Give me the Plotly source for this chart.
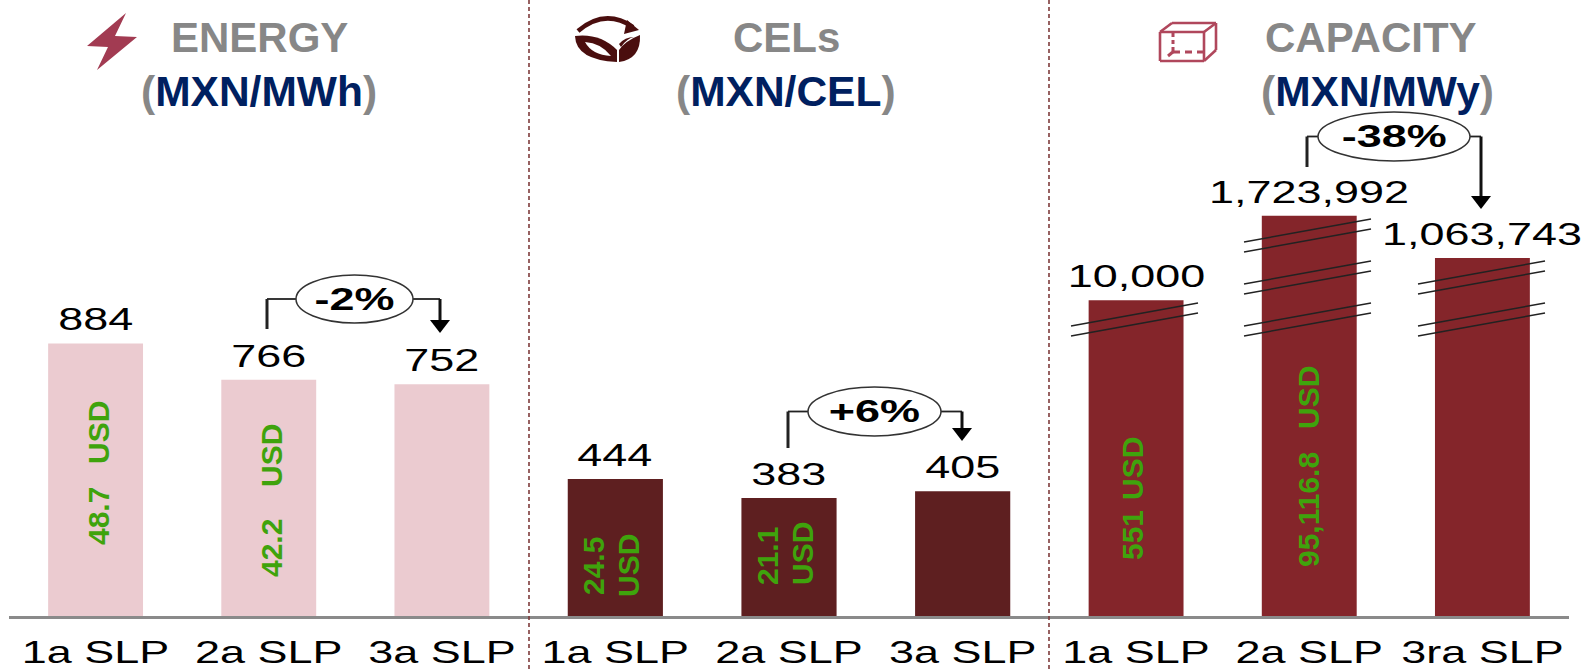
import plotly.graph_objects as go

W, H = 1595, 669
BASE = 616  # pixel row of the bars' baseline

energy_cats = ["1a SLP", "2a SLP", "3a SLP"]
cel_cats = ["1a SLP", "2a SLP", "3a SLP"]
capacity_cats = ["1a SLP", "2a SLP", "3ra SLP"]

energy_vals = [884, 766, 752]
cel_vals = [444, 383, 405]
# capacity bars are on a broken axis, so drawn heights differ from the labels
capacity_vals = [10000, 1723992, 1063743]
capacity_drawn = [1024, 1298, 1161]

PINK = "#EBCBD0"
DARK = "#5E1F20"
RED = "#84252A"
GREEN = "#3FA30C"
GRAY = "#878787"
NAVY = "#002060"
ICON = "#B0475C"
FONT = "Liberation Sans"


def px(x):
    return x / W


def py(y):
    return 1 - y / H


fig = go.Figure()

panels = [
    ("x", energy_cats, energy_vals, PINK, (9, 528.5)),
    ("x2", cel_cats, cel_vals, DARK, (528.5, 1049.5)),
    ("x3", capacity_cats, capacity_drawn, RED, (1049.5, 1569)),
]

for xref, cats, vals, col, dom in panels:
    fig.add_trace(go.Bar(x=cats, y=vals, xaxis=xref, yaxis="y", width=0.548,
                         marker=dict(color=col, line=dict(width=0)),
                         hoverinfo="skip", showlegend=False))
    name = "xaxis" + xref[1:]
    fig.update_layout({name: dict(
        domain=[px(dom[0]), px(dom[1])], anchor="y", type="category",
        showline=True, linecolor="#8a8a8a", linewidth=2.5, showgrid=False,
        zeroline=False, ticks="outside", ticklen=7, tickcolor="rgba(0,0,0,0)",
        tickfont=dict(family=FONT, size=31, color="black"))})

annots = []


def add_text(x, y, text, size, color="black", bold=False, angle=0):
    if bold:
        text = "<b>" + text + "</b>"
    annots.append(dict(x=px(x), y=py(y), xref="paper", yref="paper", text=text,
                       showarrow=False, textangle=angle, xanchor="center",
                       yanchor="middle",
                       font=dict(family=FONT, size=size, color=color)))


# value labels sit above each bar
label_sets = [
    ("x", energy_cats, energy_vals, energy_vals),
    ("x2", cel_cats, cel_vals, cel_vals),
    ("x3", capacity_cats, capacity_drawn, capacity_vals),
]
for xref, cats, tops, labels in label_sets:
    for c, t, l in zip(cats, tops, labels):
        annots.append(dict(x=c, y=t, xref=xref, yref="y", text=f"{l:,}",
                           showarrow=False, yanchor="middle", yshift=23.5,
                           font=dict(family=FONT, size=31, color="black")))

# titles
for x, y, t in [(259.5, 38, "ENERGY"), (786, 38, "CELs"), (1371, 38, "CAPACITY")]:
    add_text(x, y, t, 42, GRAY, True)
for x, t in [(259, "MXN/MWh"), (786, "MXN/CEL"), (1377, "MXN/MWy")]:
    add_text(x, 91, f'(<span style="color:{NAVY}">{t}</span>)', 42.5, GRAY, True)

# USD notes inside the bars
usd_notes = [
    (98, 516, "48.7"), (98, 433, "USD"), (271, 548, "42.2"), (271, 456, "USD"),
    (593, 566, "24.5"), (628, 566, "USD"), (767, 556, "21.1"), (802, 554, "USD"),
    (1132, 535, "551"), (1132, 469, "USD"), (1308, 510, "95,116.8"), (1308, 398, "USD"),
]
for x, y, t in usd_notes:
    add_text(x, y, t, 30, GREEN, True, -90)

# change brackets: ellipse box, left x, left start y, right x, tip y, label
brackets = [
    (296, 413, 275, 323, 267, 329, 440, 333, "-2%"),
    (808, 941, 387, 436, 788, 448, 962, 441, "+6%"),
    (1318, 1470, 112, 161, 1307, 167, 1481, 209, "-38%"),
]
shapes = []


def line(x0, y0, x1, y1, color="black", width=2, dash="solid"):
    shapes.append(dict(type="line", xref="paper", yref="paper", x0=px(x0), y0=py(y0),
                       x1=px(x1), y1=py(y1), line=dict(color=color, width=width, dash=dash)))


def path(points, fill=None, color=None, width=0):
    shapes.append(dict(type="path", xref="paper", yref="paper", path=points,
                       fillcolor=fill if fill else "rgba(0,0,0,0)",
                       line=dict(color=color if color else "rgba(0,0,0,0)", width=width)))


def pp(x, y):
    return f"{px(x):.5f},{py(y):.5f}"


for x0, x1, y0, y1, lx, ly, rx, tip, t in brackets:
    mid = (y0 + y1) / 2
    line(lx, ly, lx, mid, "#222222", 3)
    line(lx, mid, x0, mid, "#222222", 1.8)
    line(x1, mid, rx, mid, "#222222", 1.8)
    line(rx, mid, rx, tip - 10, "#111111", 3)
    path(f"M{pp(rx - 10, tip - 13)} L{pp(rx + 10, tip - 13)} L{pp(rx, tip)} Z", fill="black")
    shapes.append(dict(type="circle", xref="paper", yref="paper", x0=px(x0), x1=px(x1),
                       y0=py(y1), y1=py(y0), fillcolor="white",
                       line=dict(color="#333333", width=1.5)))
    add_text((x0 + x1) / 2, mid, t, 31, "black", True)

# axis-break strokes on the capacity bars
break_rows = [
    (1071, 1198, [(326, 303), (336, 313)]),
    (1244, 1371, [(242, 219), (252, 229), (284, 261), (294, 271), (326, 303), (336, 313)]),
    (1418, 1545, [(284, 261), (294, 271), (326, 303), (336, 313)]),
]
for x0, x1, rows in break_rows:
    for y0, y1 in rows:
        line(x0, y0, x1, y1, "#222222", 1.4)

# panel dividers
for x in (529, 1049):
    line(x, 0, x, H, "#7E3B3B", 1.6, "4px,3px")

# lightning icon
path("M" + " L".join(pp(a, b) for a, b in [(126, 13), (87, 46), (108, 47), (97, 70),
                                           (137, 37), (115, 36)]) + " Z", fill="#A23B52")

# CEL icon
path(f"M{pp(578, 31)} Q{pp(605, 8)} {pp(633, 27)}", color="#4A0E0E", width=4.5)
path(f"M{pp(627, 20)} L{pp(639, 30)} L{pp(624, 34)} Z", fill="#4A0E0E")
path(f"M{pp(575, 36)} Q{pp(600, 33)} {pp(617, 50)} L{pp(617, 62)} Q{pp(576, 60)} {pp(575, 36)} Z", fill="#4A0E0E")
path(f"M{pp(585, 42)} Q{pp(601, 43)} {pp(611, 56)} Q{pp(592, 55)} {pp(585, 42)} Z", fill="white")
path(f"M{pp(640, 35)} Q{pp(641, 59)} {pp(619, 62)} L{pp(619, 50)} Q{pp(625, 41)} {pp(640, 35)} Z", fill="#4A0E0E")
path(f"M{pp(619, 44)} Q{pp(625, 37)} {pp(634, 37)} Q{pp(626, 39)} {pp(621, 47)} Z", fill="#4A0E0E")

# capacity icon
for x0, y0, x1, y1 in [(1160, 32, 1204, 32), (1160, 61, 1204, 61), (1160, 32, 1160, 61),
                       (1204, 32, 1204, 61), (1160, 32, 1172, 23), (1204, 32, 1216, 23),
                       (1172, 23, 1216, 23), (1216, 23, 1216, 50), (1204, 61, 1216, 50)]:
    line(x0, y0, x1, y1, ICON, 2.6)
line(1173, 33, 1173, 52, ICON, 3, "4px,3px")
line(1173, 52, 1204, 52, ICON, 3, "7px,5px")
line(1168, 56, 1174, 51, ICON, 3)

fig.update_layout(
    width=W, height=H, margin=dict(l=0, r=0, t=0, b=0),
    paper_bgcolor="white", plot_bgcolor="rgba(0,0,0,0)",
    yaxis=dict(domain=[(H - BASE) / H, 1], range=[0, BASE / 0.3083], visible=False,
               fixedrange=True),
    bargap=0.45, annotations=annots, shapes=shapes, showlegend=False,
)

# reference labels are stretched sideways; widen the black text the same way
stretch_js = """
document.body.style.margin = '0';
document.querySelectorAll('.xaxislayer-above text, .annotation-text').forEach(function (t) {
    if (t.style.fill !== 'rgb(0, 0, 0)') return;
    var b = t.getBBox();
    var c = b.x + b.width / 2;
    var old = t.getAttribute('transform') || '';
    t.setAttribute('transform', old + ' translate(' + c + ',0) scale(1.45,1) translate(' + (-c) + ',0)');
});
"""

fig.write_html("out.html", post_script=stretch_js, config={"displayModeBar": False})
